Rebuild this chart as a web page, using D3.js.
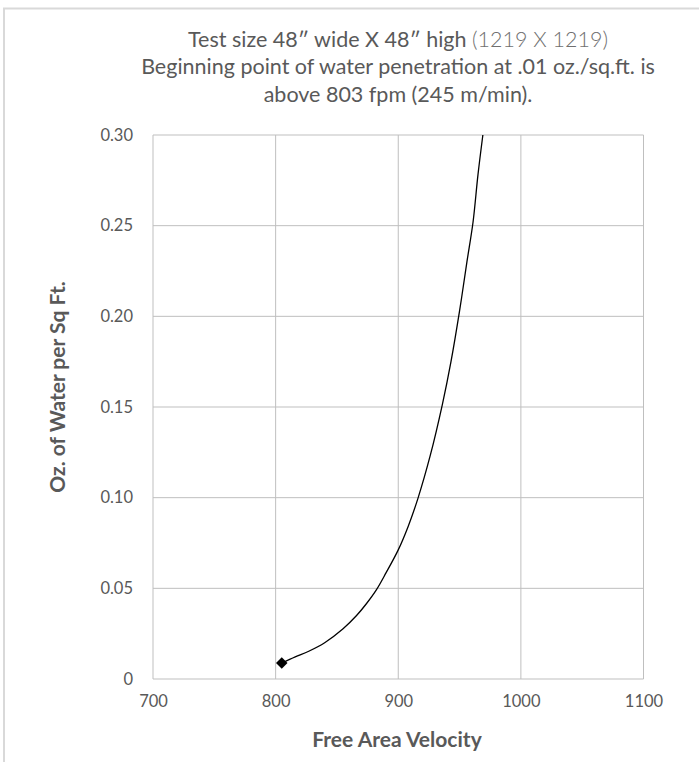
<!DOCTYPE html>
<html>
<head>
<meta charset="utf-8">
<script src="https://d3js.org/d3.v7.min.js"></script>
<style>
  body { margin: 0; background: #fff; }
  text { font-family: Lato, "Open Sans", sans-serif; fill: #595959; }
</style>
</head>
<body>
<script>
// chart values
var velocity = [805, 816, 827, 840, 855, 866, 874, 882, 890, 900, 908, 916, 926, 936, 943, 950, 956, 961, 965, 969];
var water    = [0.0088, 0.0122, 0.0153, 0.0200, 0.0277, 0.0350, 0.0415, 0.0490, 0.0585, 0.0712,
                0.0840, 0.0995, 0.1230, 0.1515, 0.1750, 0.2030, 0.2300, 0.2520, 0.2780, 0.3000];
var xTicks = [700, 800, 900, 1000, 1100];
var yTicks = [0, 0.05, 0.10, 0.15, 0.20, 0.25, 0.30];
var titleLines = [
    ["Test size 48\u2033 wide X 48\u2033 high ", "(1219 X 1219)"],
    ["Beginning point of water penetration at .01 oz./sq.ft. is", ""],
    ["above 803 fpm (245 m/min).", ""]
];

var W = 699, H = 762;
var margin = {top: 135, right: 55.5, bottom: 83, left: 153},
    width = W - margin.left - margin.right,
    height = H - margin.top - margin.bottom;

var svg = d3.select("body").append("svg")
    .attr("width", W)
    .attr("height", H);

// outer chart frame (only top and left edges show)
svg.append("rect")
    .attr("x", 4).attr("y", 8.5)
    .attr("width", 900).attr("height", 900)
    .attr("fill", "none")
    .attr("stroke", "#d9d9d9")
    .attr("stroke-width", 2);

var g = svg.append("g")
    .attr("transform", "translate(" + margin.left + "," + margin.top + ")");

var x = d3.scaleLinear().domain([700, 1100]).range([0, width]);
var y = d3.scaleLinear().domain([0, 0.30]).range([height, 0]);

// grid
g.append("g").selectAll("line").data(xTicks).join("line")
    .attr("x1", d => x(d)).attr("x2", d => x(d))
    .attr("y1", 0).attr("y2", height)
    .attr("stroke", "#bfbfbf").attr("stroke-width", 1);
g.append("g").selectAll("line").data(yTicks).join("line")
    .attr("x1", 0).attr("x2", width)
    .attr("y1", d => y(d)).attr("y2", d => y(d))
    .attr("stroke", "#bfbfbf").attr("stroke-width", 1);

// axes (labels only, lines come from the grid)
g.append("g")
    .attr("transform", "translate(0," + height + ")")
    .call(d3.axisBottom(x).tickValues(xTicks).tickSize(0).tickPadding(16).tickFormat(d3.format("d")))
    .attr("font-family", null).attr("font-size", null);
g.append("g")
    .call(d3.axisLeft(y).tickValues(yTicks).tickSize(0).tickPadding(20)
        .tickFormat(d => d === 0 ? "0" : d.toFixed(2)))
    .attr("font-family", null).attr("font-size", null);
g.selectAll(".domain").remove();
g.selectAll(".tick text")
    .attr("fill", "#595959")
    .style("font-family", "Lato, 'Open Sans', sans-serif")
    .style("font-size", "16.5px");

// curve
var pts = velocity.map((v, i) => [v, water[i]]);
var line = d3.line()
    .x(d => x(d[0]))
    .y(d => y(d[1]))
    .curve(d3.curveCatmullRom.alpha(0.5));
g.append("path")
    .datum(pts)
    .attr("d", line)
    .attr("fill", "none")
    .attr("stroke", "#000")
    .attr("stroke-width", 1.3);

// first point marker (diamond)
g.append("path")
    .attr("d", d3.symbol().type(d3.symbolDiamond2).size(85))
    .attr("transform", "translate(" + x(velocity[0]) + "," + y(water[0]) + ")")
    .attr("fill", "#000");

// title
var title = svg.append("text")
    .attr("text-anchor", "middle")
    .style("font-size", "21.5px");
titleLines.forEach(function(l, i) {
    title.append("tspan")
        .attr("x", 398)
        .attr("y", 46.5 + i * 27.5)
        .text(l[0]);
    if (l[1]) {
        title.append("tspan").text(l[1]).style("font-weight", 300).style("fill", "#6f6f6f");
    }
});

// axis titles
svg.append("text")
    .attr("text-anchor", "middle")
    .attr("x", 397)
    .attr("y", 747)
    .style("font-size", "21px")
    .style("font-weight", "bold")
    .text("Free Area Velocity");

svg.append("text")
    .attr("text-anchor", "middle")
    .attr("transform", "translate(65,387) rotate(-90)")
    .style("font-size", "21px")
    .style("font-weight", "bold")
    .text("Oz. of Water per Sq Ft.");
</script>
</body>
</html>
